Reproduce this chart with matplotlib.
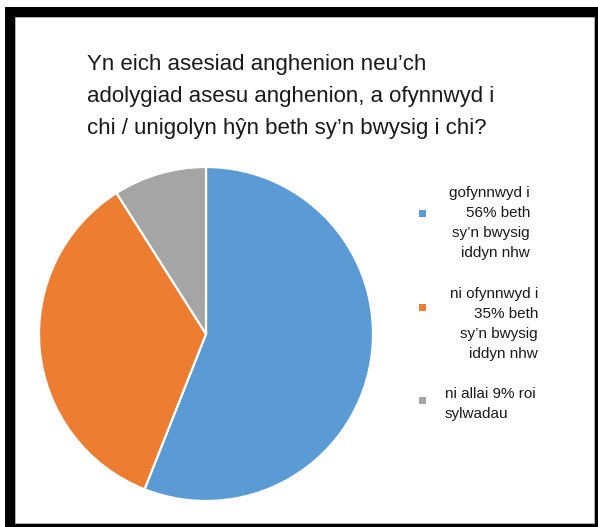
import matplotlib
matplotlib.use("Agg")
import matplotlib.pyplot as plt
from matplotlib.patches import Rectangle

# ---- data ----
categories = ["gofynnwyd i beth sy'n bwysig iddyn nhw",
              "ni ofynnwyd i beth sy'n bwysig iddyn nhw",
              "ni allai roi sylwadau"]
values = [56, 35, 9]
colors = ["#5B9BD5", "#ED7D31", "#A5A5A5"]
legend_lines = [
    ["gofynnwyd i", "56% beth", "sy\u2019n bwysig", "iddyn nhw"],
    ["ni ofynnwyd i", "35% beth", "sy\u2019n bwysig", "iddyn nhw"],
    ["ni allai 9% roi", "sylwadau"],
]
title_lines = ["Yn eich asesiad anghenion neu\u2019ch",
               "adolygiad asesu anghenion, a ofynnwyd i",
               "chi / unigolyn h\u0177n beth sy\u2019n bwysig i chi?"]

W, H = 598, 527
plt.rcParams['font.family'] = ['Liberation Sans', 'DejaVu Sans']
fig = plt.figure(figsize=(W / 100, H / 100), dpi=100, facecolor="white")

# background axes in pixel coordinates
bg = fig.add_axes([0, 0, 1, 1])
bg.set_xlim(0, W)
bg.set_ylim(H, 0)
bg.axis("off")
bg.add_patch(Rectangle((5, 7), W - 5, H - 7, facecolor="black", edgecolor="none"))
bg.add_patch(Rectangle((15, 17), 579, 506, facecolor="white", edgecolor="#bbbbbb", lw=0.6))

# title
for i, line in enumerate(title_lines):
    bg.text(87, 70 + i * 32, line, fontsize=16, color="#1a1a1a",
            ha="left", va="baseline")

# pie
cx, cy, r = 206, 334, 167
pax = fig.add_axes([(cx - r) / W, (H - cy - r) / H, 2 * r / W, 2 * r / H])
pax.pie(values, colors=colors, startangle=90, counterclock=False,
        wedgeprops=dict(edgecolor="white", linewidth=1.6))
pax.set_xlim(-1, 1)
pax.set_ylim(-1, 1)
pax.axis("off")

# legend
key_y = [213, 307, 400]
block_top = [192, 293, 393]
aligns = ["right", "right", "left"]
anchor_x = [530, 538, 445]
for k in range(3):
    bg.add_patch(Rectangle((419, key_y[k] - 3.5), 7, 7,
                           facecolor=colors[k], edgecolor="none"))
    for j, line in enumerate(legend_lines[k]):
        bg.text(anchor_x[k], block_top[k] + j * 20 + 5, line, fontsize=11,
                color="#1a1a1a", ha=aligns[k], va="baseline")

fig.savefig("out.png", dpi=100, facecolor="white")
